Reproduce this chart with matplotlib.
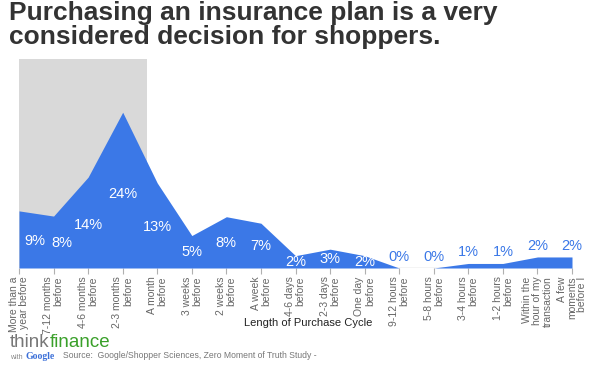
"""Insurance purchase cycle: area chart in the thinkfinance style."""
import matplotlib
matplotlib.use("Agg")
import matplotlib.pyplot as plt
import numpy as np

plt.rcParams["font.family"] = ["Liberation Sans", "DejaVu Sans"]

TITLE = "Purchasing an insurance plan is a very\nconsidered decision for shoppers."
categories = [
    "More than a\nyear before", "7-12 months\nbefore", "4-6 months\nbefore",
    "2-3 months\nbefore", "A month\nbefore", "3 weeks\nbefore", "2 weeks\nbefore",
    "A week\nbefore", "4-6 days\nbefore", "2-3 days\nbefore", "One day\nbefore",
    "9-12 hours\nbefore", "5-8 hours\nbefore", "3-4 hours\nbefore",
    "1-2 hours\nbefore", "Within the\nhour of my\ntransaction",
    "A few\nmoments\nbefore I",
]
values = [8.8, 8.0, 14.0, 24.0, 13.1, 5.0, 7.9, 6.9, 1.9, 2.9, 1.9,
          0.0, 0.0, 0.7, 0.7, 1.7, 1.7]
labels = ["9%", "8%", "14%", "24%", "13%", "5%", "8%", "7%", "2%", "3%", "2%",
          "0%", "0%", "1%", "1%", "2%", "2%"]
n_inside = 11          # first labels sit inside the area, in white
shade_end = 3.7        # grey band behind the early months

BLUE = "#3b78e7"
W, H = 600, 368

fig = plt.figure(figsize=(W / 100, H / 100), dpi=100)
ax = fig.add_axes([19 / W, 1 - 268 / H, 553 / W, 209 / H])

x = np.arange(len(values))
ax.axvspan(0, shade_end, color="#d9d9d9", lw=0, zorder=0)
ax.fill_between(x, 0, values, color=BLUE, lw=0, zorder=2)
ax.axhline(0, color="#c8c8c8", lw=1, zorder=1)

for i, (v, lab) in enumerate(zip(values, labels)):
    if i < n_inside:
        dx = {0: 0.45, 1: 0.25}.get(i, 0)
        ax.text(i + dx, v * 0.47 + 0.1, lab, color="white", fontsize=10.5,
                ha="center", va="center", zorder=3)
    else:
        ax.text(i, v + 1.7, lab, color=BLUE, fontsize=10.5,
                ha="center", va="center", zorder=3)

ax.set_xlim(0, len(values) - 1)
ax.set_ylim(0, 32.2)
ax.set_yticks([])
ax.set_xticks(x)
ax.set_xticklabels(categories, rotation=90, fontsize=7.5, color="#666666",
                   multialignment="right", linespacing=1.05)
ax.tick_params(axis="x", length=4, color="#b0b0b0", pad=2)
for s in ax.spines.values():
    s.set_visible(False)

fig.text(308 / W, 1 - 323 / H, "Length of Purchase Cycle", fontsize=8,
         color="#222222", ha="center", va="center")

fig.text(9 / W, 1 - 1 / H, TITLE, fontsize=19, fontweight="bold",
         color="#333333", ha="left", va="top", linespacing=0.98)

# logo + source line
r = fig.canvas.get_renderer()
t = fig.text(10 / W, 1 - 347 / H, "think", fontsize=13.5, color="#777777",
             ha="left", va="baseline")
bb = t.get_window_extent(r)
fig.text(bb.x1 / W, 1 - 347 / H, "finance", fontsize=13.5, color="#3aa02a",
         ha="left", va="baseline")

fig.text(10 / W, 1 - 359 / H, "with", fontsize=5, color="#888888",
         ha="left", va="baseline")
fig.text(25 / W, 1 - 359 / H, "Google", fontsize=7, color="#3b6fd8",
         family="Liberation Serif", fontweight="bold", ha="left", va="baseline")

fig.text(63 / W, 1 - 358 / H,
         "Source:  Google/Shopper Sciences, Zero Moment of Truth Study -",
         fontsize=6.2, color="#777777", ha="left", va="baseline")

fig.savefig("out.png", dpi=100)
